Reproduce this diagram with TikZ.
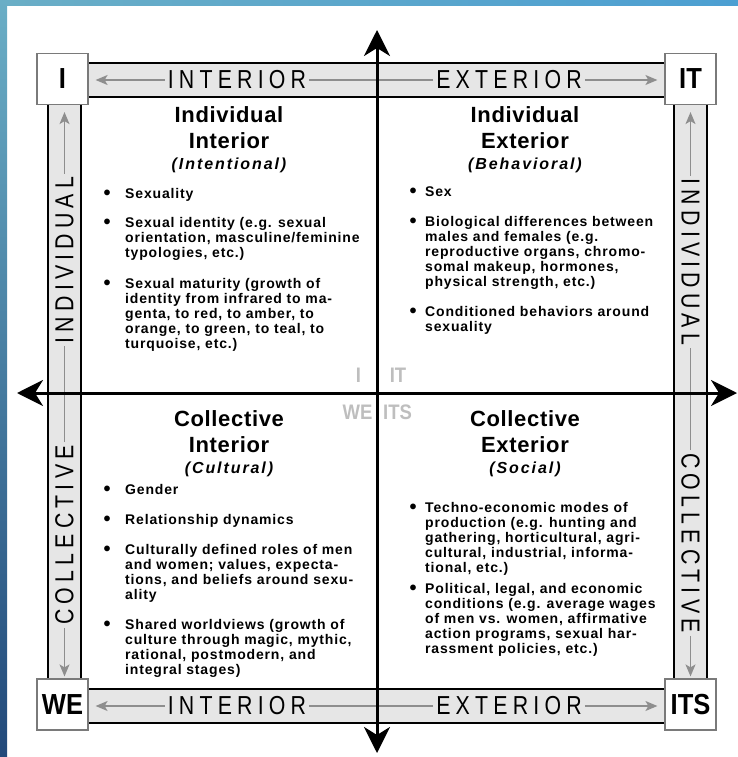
\documentclass[tikz,border=0pt]{standalone}
\usepackage{fontspec}
\setmainfont{Liberation Sans}
\newfontfamily\bandfont[FakeStretch=0.82,LetterSpace=20]{Liberation Sans}
\newfontfamily\cornerfont[FakeStretch=0.88]{Liberation Sans}
\newfontfamily\headfont[LetterSpace=3]{Liberation Sans}
\newfontfamily\subfont[LetterSpace=12]{Liberation Sans}
\newfontfamily\bodyfont[LetterSpace=6]{Liberation Sans}
\usetikzlibrary{arrows.meta}

\definecolor{bandgray}{HTML}{E6E6E6}
\definecolor{guidegray}{HTML}{8E8E8E}
\definecolor{labelgray}{HTML}{BEBEBE}
\definecolor{boxgray}{HTML}{7A7A7A}
\definecolor{slideleft}{HTML}{6AAEC6}
\definecolor{slidemid}{HTML}{88D6E4}
\definecolor{slideright}{HTML}{4C9FD2}
\definecolor{slidebottom}{HTML}{22497A}

% bullet, pushed left of the item text
\newcommand\bul[1][14.5pt]{\llap{\raisebox{-1pt}{\fontsize{20}{15}\selectfont\textbullet}\hspace{#1}}}

\begin{document}
\begin{tikzpicture}[x=1pt,y=-1pt,
    every node/.append style={inner sep=0pt},
    bandfill/.style={fill=bandgray},
    bandedge/.style={line width=1.6pt},
    corner/.style={draw=boxgray,line width=1.2pt,fill=white,minimum size=51pt,
      font=\cornerfont\bfseries\fontsize{29}{29}\selectfont},
    bandlabel/.style={inner xsep=3pt,font=\bandfont\fontsize{26}{26}\selectfont},
    guide/.style={draw=guidegray,line width=1.3pt},
    guidetip/.style={guide,-{Stealth[length=12pt,width=10pt,inset=3pt]},shorten >=7pt},
    axis/.style={line width=3pt,
      {Stealth[length=26pt,width=26pt,inset=8pt]}-{Stealth[length=26pt,width=26pt,inset=8pt]}},
    head/.style={align=center,anchor=north,
      font=\headfont\bfseries\fontsize{22}{26}\selectfont},
    body/.style={align=left,anchor=north west,
      font=\bodyfont\bfseries\fontsize{14}{15}\selectfont},
    quadlabel/.style={text=labelgray,font=\cornerfont\bfseries\fontsize{21}{21}\selectfont}]
  \useasboundingbox (0,0) rectangle (738,757);

  % slide background
  \shade[left color=slideleft,middle color=slidemid,right color=slideright] (0,0) rectangle (738,6);
  \shade[top color=slideleft,bottom color=slidebottom] (0,0) rectangle (7,757);

  % bands
  \fill[bandfill] (88,63) rectangle (665,97);
  \fill[bandfill] (88,689) rectangle (665,723);
  \fill[bandfill] (48,105) rectangle (81,679);
  \fill[bandfill] (674,105) rectangle (707,679);
  \draw[bandedge] (88,63) -- (665,63) (88,97) -- (665,97);
  \draw[bandedge] (88,689) -- (665,689) (88,723) -- (665,723);
  \draw[bandedge] (48,105) -- (48,679) (81,105) -- (81,679);
  \draw[bandedge] (674,105) -- (674,679) (707,105) -- (707,679);

  % corners
  \node[corner] (ibox) at (62.5,79) {I};
  \node[corner] (itbox) at (690.5,79) {IT};
  \node[corner] (webox) at (62.5,704.5) {WE};
  \node[corner] (itsbox) at (690.5,704.5) {ITS};

  \coordinate (o) at (377,393);
  \coordinate (vtop) at (377,30);
  \coordinate (vbot) at (377,753);
  \coordinate (hleft) at (17,393);
  \coordinate (hright) at (737,393);

  % band labels
  \node[bandlabel] (tin) at (237,80) {INTERIOR};
  \node[bandlabel] (tex) at (509,80) {EXTERIOR};
  \node[bandlabel] (bin) at (237,706) {INTERIOR};
  \node[bandlabel] (bex) at (509,706) {EXTERIOR};
  \node[bandlabel,rotate=90] (lind) at (64.5,260) {INDIVIDUAL};
  \node[bandlabel,rotate=90] (lcol) at (64.5,535) {COLLECTIVE};
  \node[bandlabel,rotate=-90] (rind) at (690.5,262) {INDIVIDUAL};
  \node[bandlabel,rotate=-90] (rcol) at (690.5,543) {COLLECTIVE};

  \draw[guidetip] (tin.west) -- (tin.west -| ibox.east);
  \draw[guide] (tin.east) -- (tin.east -| o);
  \draw[guide] (tex.west) -- (tex.west -| o);
  \draw[guidetip] (tex.east) -- (tex.east -| itbox.west);
  \draw[guidetip] (bin.west) -- (bin.west -| webox.east);
  \draw[guide] (bin.east) -- (bin.east -| o);
  \draw[guide] (bex.west) -- (bex.west -| o);
  \draw[guidetip] (bex.east) -- (bex.east -| itsbox.west);
  \draw[guidetip] (lind.east) -- (lind.east |- ibox.south);
  \draw[guide] (lind.west) -- (lind.west |- o);
  \draw[guide] (lcol.east) -- (lcol.east |- o);
  \draw[guidetip,shorten >=2pt] (lcol.west) -- (lcol.west |- webox.north);
  \draw[guidetip] (rind.west) -- (rind.west |- itbox.south);
  \draw[guide] (rind.east) -- (rind.east |- o);
  \draw[guide] (rcol.west) -- (rcol.west |- o);
  \draw[guidetip,shorten >=2pt] (rcol.east) -- (rcol.east |- itsbox.north);

  % quadrant headings
  \node[head] (tlhead) at (229,106) {Individual\\Interior\\[-5pt]{\subfont\itshape\fontsize{16}{16}\selectfont (Intentional)}};
  \node[head] (trhead) at (525,106) {Individual\\Exterior\\[-5pt]{\subfont\itshape\fontsize{16}{16}\selectfont (Behavioral)}};
  \node[head] (blhead) at (229,410) {Collective\\Interior\\[-5pt]{\subfont\itshape\fontsize{16}{16}\selectfont (Cultural)}};
  \node[head] (brhead) at (525,410) {Collective\\Exterior\\[-5pt]{\subfont\itshape\fontsize{16}{16}\selectfont (Social)}};

  % quadrant items
  \node[body] (tlbody) at (125,188) {\bul Sexuality\\[14pt]
    \bul Sexual identity (e.g. sexual\\
    orientation, masculine/feminine\\
    typologies, etc.)\\[16pt]
    \bul Sexual maturity (growth of\\
    identity from infrared to ma-\\
    genta, to red, to amber, to\\
    orange, to green, to teal, to\\
    turquoise, etc.)};
  \node[body] (trbody) at (425,187) {\bul[8.5pt]Sex\\[15pt]
    \bul[8.5pt]Biological differences between\\
    males and females (e.g.\\
    reproductive organs, chromo-\\
    somal makeup, hormones,\\
    physical strength, etc.)\\[15pt]
    \bul[8.5pt]Conditioned behaviors around\\
    sexuality};
  \node[body] (blbody) at (125,484) {\bul Gender\\[15pt]
    \bul Relationship dynamics\\[15pt]
    \bul Culturally defined roles of men\\
    and women; values, expecta-\\
    tions, and beliefs around sexu-\\
    ality\\[15pt]
    \bul Shared worldviews (growth of\\
    culture through magic, mythic,\\
    rational, postmodern, and\\
    integral stages)};
  \node[body] (brbody) at (425,502) {\bul[8.5pt]Techno-economic modes of\\
    production (e.g. hunting and\\
    gathering, horticultural, agri-\\
    cultural, industrial, informa-\\
    tional, etc.)\\[6pt]
    \bul[8.5pt]Political, legal, and economic\\
    conditions (e.g. average wages\\
    of men vs. women, affirmative\\
    action programs, sexual har-\\
    rassment policies, etc.)};

  % centre labels
  \node[quadlabel] (qi) at (358.5,375.5) {I};
  \node[quadlabel] (qit) at (398,375.5) {IT};
  \node[quadlabel] (qwe) at (357.5,412) {WE};
  \node[quadlabel] (qits) at (397.5,412) {ITS};

  % axes
  \draw[axis] (vtop) -- (vbot);
  \draw[axis] (hleft) -- (hright);
\end{tikzpicture}
\end{document}
